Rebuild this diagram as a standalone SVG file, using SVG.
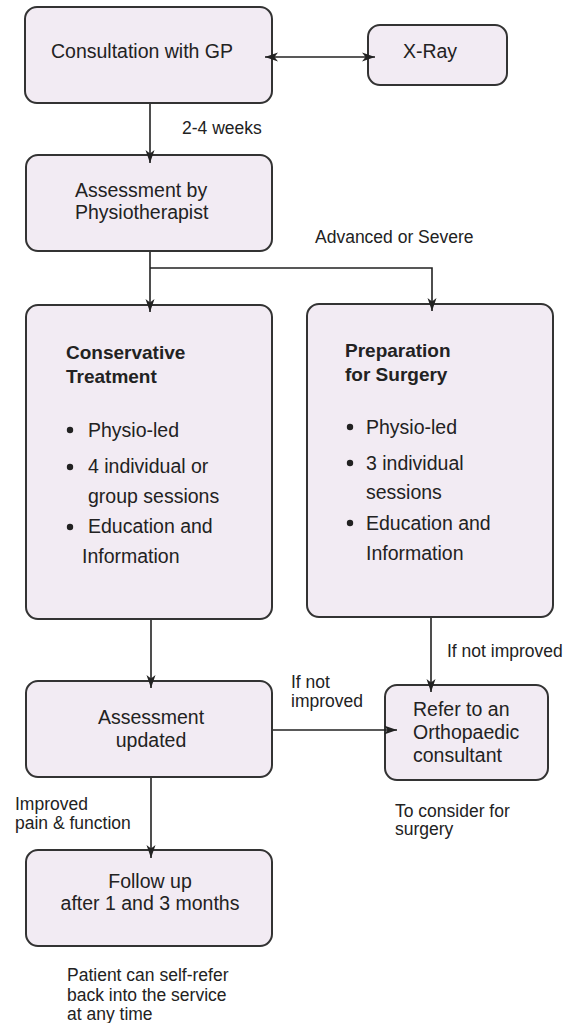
<svg xmlns="http://www.w3.org/2000/svg" width="563" height="1023" viewBox="0 0 563 1023">
<style>
.box{fill:#f2ebf3;stroke:#333;stroke-width:2}
.t{font-family:"Liberation Sans",Arial,sans-serif;font-size:19.5px;fill:#222}
.b{font-family:"Liberation Sans",Arial,sans-serif;font-size:19px;font-weight:bold;fill:#222}
.l{font-family:"Liberation Sans",Arial,sans-serif;font-size:17.5px;fill:#222}
.c{text-anchor:middle}
.edge{fill:none;stroke:#222;stroke-width:1.6}
.dot{fill:#222}
</style>
<defs>
<marker id="ah" viewBox="0 0 13 10" refX="13" refY="5" markerWidth="13" markerHeight="10" markerUnits="userSpaceOnUse" orient="auto-start-reverse">
<path d="M0,0.5 L13,5 L0,9.5 L3.5,5 z" fill="#222"/>
</marker>
</defs>
<rect width="563" height="1023" fill="#fff"/>
<g id="gp">
<rect class="box" x="25" y="7" width="247" height="96" rx="12"/>
<text class="t c" x="142" y="58">Consultation with GP</text>
</g>
<g id="xray">
<rect class="box" x="368" y="25" width="139" height="60" rx="12"/>
<text class="t c" x="430" y="58">X-Ray</text>
</g>
<g id="assess">
<rect class="box" x="26" y="155" width="246" height="96" rx="12"/>
<text class="t" x="75" y="197">Assessment by</text>
<text class="t" x="75" y="219">Physiotherapist</text>
</g>
<g id="conservative">
<rect class="box" x="26" y="305" width="246" height="314" rx="12"/>
<text class="b" x="66" y="359">Conservative</text>
<text class="b" x="66" y="383">Treatment</text>
<circle class="dot" cx="70" cy="430" r="3.2"/>
<text class="t" x="88" y="437">Physio-led</text>
<circle class="dot" cx="70" cy="467" r="3.2"/>
<text class="t" x="88" y="473">4 individual or</text>
<text class="t" x="88" y="503">group sessions</text>
<circle class="dot" cx="70" cy="527" r="3.2"/>
<text class="t" x="88" y="533">Education and</text>
<text class="t" x="82" y="563">Information</text>
</g>
<g id="surgery">
<rect class="box" x="307" y="304" width="246" height="313" rx="12"/>
<text class="b" x="345" y="357">Preparation</text>
<text class="b" x="345" y="381">for Surgery</text>
<circle class="dot" cx="350" cy="427" r="3.2"/>
<text class="t" x="366" y="434">Physio-led</text>
<circle class="dot" cx="350" cy="463" r="3.2"/>
<text class="t" x="366" y="470">3 individual</text>
<text class="t" x="366" y="499">sessions</text>
<circle class="dot" cx="350" cy="523" r="3.2"/>
<text class="t" x="366" y="530">Education and</text>
<text class="t" x="366" y="560">Information</text>
</g>
<g id="updated">
<rect class="box" x="26" y="681" width="246" height="96" rx="12"/>
<text class="t c" x="151" y="724">Assessment</text>
<text class="t c" x="151" y="747">updated</text>
</g>
<g id="refer">
<rect class="box" x="385" y="685" width="163" height="95" rx="12"/>
<text class="t" x="413" y="716">Refer to an</text>
<text class="t" x="413" y="739">Orthopaedic</text>
<text class="t" x="413" y="762">consultant</text>
</g>
<g id="followup">
<rect class="box" x="26" y="850" width="246" height="96" rx="12"/>
<text class="t c" x="150" y="888">Follow up</text>
<text class="t c" x="150" y="910">after 1 and 3 months</text>
</g>
<g id="connectors">
<line class="edge" x1="265" y1="57" x2="375" y2="57" marker-start="url(#ah)" marker-end="url(#ah)"/>
<line class="edge" x1="150" y1="104" x2="150" y2="163" marker-end="url(#ah)"/>
<line class="edge" x1="150" y1="252" x2="150" y2="312" marker-end="url(#ah)"/>
<polyline class="edge" points="150,268 432,268 432,311" marker-end="url(#ah)"/>
<line class="edge" x1="151" y1="620" x2="151" y2="688" marker-end="url(#ah)"/>
<line class="edge" x1="431" y1="618" x2="431" y2="692" marker-end="url(#ah)"/>
<line class="edge" x1="273" y1="730" x2="397" y2="730" marker-end="url(#ah)"/>
<line class="edge" x1="151" y1="778" x2="151" y2="858" marker-end="url(#ah)"/>
<text class="l" x="182" y="134">2-4 weeks</text>
<text class="l" x="315" y="243">Advanced or Severe</text>
<text class="l" x="447" y="657">If not improved</text>
<text class="l" x="291" y="688">If not</text>
<text class="l" x="291" y="707">improved</text>
<text class="l" x="15" y="810">Improved</text>
<text class="l" x="15" y="829">pain &amp; function</text>
<text class="l" x="395" y="817">To consider for</text>
<text class="l" x="395" y="835">surgery</text>
<text class="l" x="67" y="981">Patient can self-refer</text>
<text class="l" x="67" y="1001">back into the service</text>
<text class="l" x="67" y="1020">at any time</text>
</g>
</svg>
